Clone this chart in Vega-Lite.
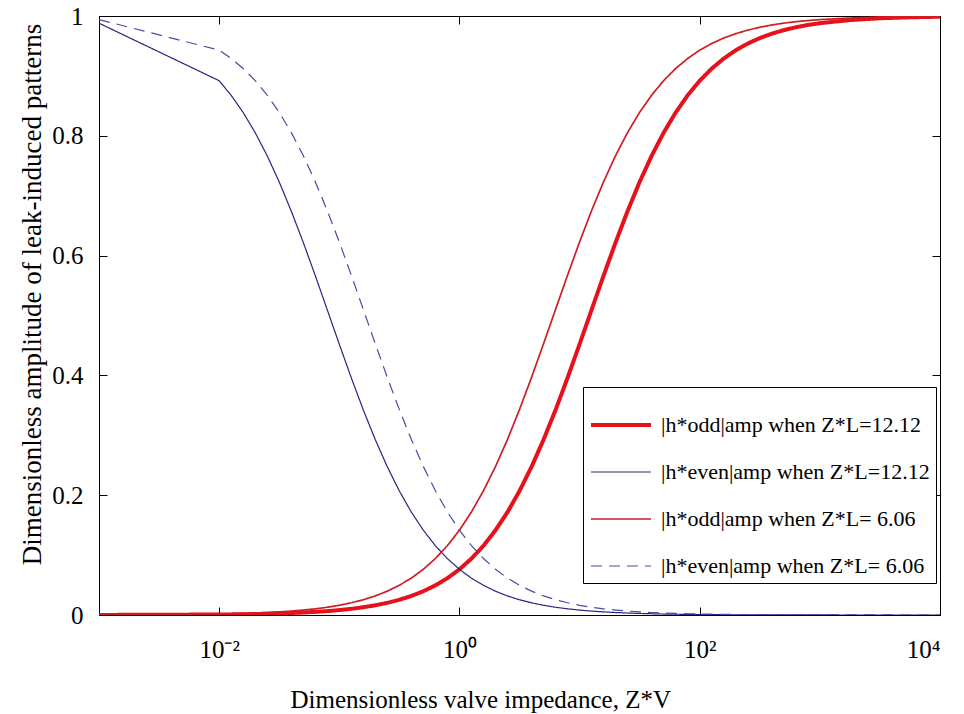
{
  "$schema": "https://vega.github.io/schema/vega-lite/v6.json",
  "width": 841,
  "height": 599,
  "autosize": "none",
  "padding": {"left": 99, "top": 16, "right": 24, "bottom": 99},
  "background": "white",
  "config": {
    "font": "Liberation Serif",
    "view": {"stroke": "black", "strokeWidth": 1},
    "axis": {
      "grid": false,
      "domainColor": "black",
      "domainWidth": 1,
      "tickColor": "black",
      "tickWidth": 1,
      "tickSize": -8,
      "labelFont": "Liberation Serif",
      "labelFontSize": 25,
      "labelColor": "black",
      "titleFont": "Liberation Serif",
      "titleFontWeight": "normal",
      "titleColor": "black"
    },
    "legend": {
      "labelFont": "Liberation Serif",
      "labelFontSize": 22,
      "labelColor": "black"
    }
  },
  "data": {
    "values": [
      {"z": 0.001, "o12": 0.0001, "e12": 0.988, "o6": 0.0002, "e6": 0.994},
      {"z": 0.01, "o12": 0.0008, "e12": 0.892, "o6": 0.0017, "e6": 0.943},
      {"z": 0.01259, "o12": 0.001, "e12": 0.8676, "o6": 0.0021, "e6": 0.9291},
      {"z": 0.01585, "o12": 0.0013, "e12": 0.8389, "o6": 0.0026, "e6": 0.9124},
      {"z": 0.01995, "o12": 0.0016, "e12": 0.8053, "o6": 0.0033, "e6": 0.8921},
      {"z": 0.02512, "o12": 0.0021, "e12": 0.7666, "o6": 0.0041, "e6": 0.8679},
      {"z": 0.03162, "o12": 0.0026, "e12": 0.723, "o6": 0.0052, "e6": 0.8392},
      {"z": 0.03981, "o12": 0.0033, "e12": 0.6745, "o6": 0.0065, "e6": 0.8057},
      {"z": 0.05012, "o12": 0.0041, "e12": 0.6221, "o6": 0.0082, "e6": 0.767},
      {"z": 0.0631, "o12": 0.0052, "e12": 0.5667, "o6": 0.0103, "e6": 0.7234},
      {"z": 0.07943, "o12": 0.0065, "e12": 0.5095, "o6": 0.0129, "e6": 0.6751},
      {"z": 0.1, "o12": 0.0082, "e12": 0.4521, "o6": 0.0162, "e6": 0.6227},
      {"z": 0.1259, "o12": 0.0103, "e12": 0.3959, "o6": 0.0204, "e6": 0.5672},
      {"z": 0.1585, "o12": 0.0129, "e12": 0.3423, "o6": 0.0255, "e6": 0.5101},
      {"z": 0.1995, "o12": 0.0162, "e12": 0.2926, "o6": 0.0319, "e6": 0.4527},
      {"z": 0.2512, "o12": 0.0203, "e12": 0.2473, "o6": 0.0398, "e6": 0.3965},
      {"z": 0.3162, "o12": 0.0254, "e12": 0.207, "o6": 0.0496, "e6": 0.3429},
      {"z": 0.3981, "o12": 0.0318, "e12": 0.1717, "o6": 0.0616, "e6": 0.2931},
      {"z": 0.5012, "o12": 0.0397, "e12": 0.1414, "o6": 0.0764, "e6": 0.2477},
      {"z": 0.631, "o12": 0.0495, "e12": 0.1156, "o6": 0.0943, "e6": 0.2074},
      {"z": 0.7943, "o12": 0.0615, "e12": 0.0941, "o6": 0.1159, "e6": 0.172},
      {"z": 1, "o12": 0.0762, "e12": 0.0762, "o6": 0.1416, "e6": 0.1416},
      {"z": 1.259, "o12": 0.0941, "e12": 0.0615, "o6": 0.172, "e6": 0.1159},
      {"z": 1.585, "o12": 0.1156, "e12": 0.0495, "o6": 0.2074, "e6": 0.0943},
      {"z": 1.995, "o12": 0.1414, "e12": 0.0397, "o6": 0.2477, "e6": 0.0764},
      {"z": 2.512, "o12": 0.1717, "e12": 0.0318, "o6": 0.2931, "e6": 0.0616},
      {"z": 3.162, "o12": 0.207, "e12": 0.0254, "o6": 0.3429, "e6": 0.0496},
      {"z": 3.981, "o12": 0.2473, "e12": 0.0203, "o6": 0.3965, "e6": 0.0398},
      {"z": 5.012, "o12": 0.2926, "e12": 0.0162, "o6": 0.4527, "e6": 0.0319},
      {"z": 6.31, "o12": 0.3423, "e12": 0.0129, "o6": 0.5101, "e6": 0.0255},
      {"z": 7.943, "o12": 0.3959, "e12": 0.0103, "o6": 0.5672, "e6": 0.0204},
      {"z": 10, "o12": 0.4521, "e12": 0.0082, "o6": 0.6227, "e6": 0.0162},
      {"z": 12.59, "o12": 0.5095, "e12": 0.0065, "o6": 0.6751, "e6": 0.0129},
      {"z": 15.85, "o12": 0.5667, "e12": 0.0052, "o6": 0.7234, "e6": 0.0103},
      {"z": 19.95, "o12": 0.6221, "e12": 0.0041, "o6": 0.767, "e6": 0.0082},
      {"z": 25.12, "o12": 0.6745, "e12": 0.0033, "o6": 0.8057, "e6": 0.0065},
      {"z": 31.62, "o12": 0.723, "e12": 0.0026, "o6": 0.8392, "e6": 0.0052},
      {"z": 39.81, "o12": 0.7666, "e12": 0.0021, "o6": 0.8679, "e6": 0.0041},
      {"z": 50.12, "o12": 0.8053, "e12": 0.0016, "o6": 0.8921, "e6": 0.0033},
      {"z": 63.1, "o12": 0.8389, "e12": 0.0013, "o6": 0.9124, "e6": 0.0026},
      {"z": 79.43, "o12": 0.8676, "e12": 0.001, "o6": 0.9291, "e6": 0.0021},
      {"z": 100, "o12": 0.892, "e12": 0.0008, "o6": 0.943, "e6": 0.0017},
      {"z": 125.9, "o12": 0.9122, "e12": 0.0007, "o6": 0.9541, "e6": 0.0013},
      {"z": 158.5, "o12": 0.929, "e12": 0.0005, "o6": 0.9632, "e6": 0.001},
      {"z": 199.5, "o12": 0.9427, "e12": 0.0004, "o6": 0.9705, "e6": 0.0008},
      {"z": 251.2, "o12": 0.954, "e12": 0.0003, "o6": 0.9764, "e6": 0.0007},
      {"z": 316.2, "o12": 0.9631, "e12": 0.0003, "o6": 0.9812, "e6": 0.0005},
      {"z": 398.1, "o12": 0.9705, "e12": 0.0002, "o6": 0.985, "e6": 0.0004},
      {"z": 501.2, "o12": 0.9764, "e12": 0.0002, "o6": 0.9881, "e6": 0.0003},
      {"z": 631, "o12": 0.9812, "e12": 0.0001, "o6": 0.9905, "e6": 0.0003},
      {"z": 794.3, "o12": 0.985, "e12": 0.0001, "o6": 0.9924, "e6": 0.0002},
      {"z": 1000, "o12": 0.988, "e12": 0.0001, "o6": 0.994, "e6": 0.0002},
      {"z": 1778, "o12": 0.9932, "e12": 0.0, "o6": 0.9966, "e6": 0.0001},
      {"z": 3162, "o12": 0.9962, "e12": 0.0, "o6": 0.9981, "e6": 0.0001},
      {"z": 5623, "o12": 0.9978, "e12": 0.0, "o6": 0.9989, "e6": 0.0},
      {"z": 10000, "o12": 0.9988, "e12": 0.0, "o6": 0.9994, "e6": 0.0}
    ]
  },
  "transform": [{"fold": ["o12", "e12", "o6", "e6"], "as": ["series", "v"]}],
  "layer": [
    {
      "mark": {"type": "line", "clip": true},
      "encoding": {
        "x": {
          "field": "z",
          "type": "quantitative",
          "scale": {"type": "log", "domain": [0.001, 10000], "nice": false},
          "axis": {
            "orient": "bottom",
            "values": [0.01, 1, 100, 10000],
            "labelExpr": "datum.value < 0.1 ? '10⁻²' : datum.value < 10 ? '10⁰' : datum.value < 1000 ? '10²' : '10⁴'",
            "labelPadding": 30,
            "title": "Dimensionless valve impedance, Z*V",
            "titleFontSize": 25,
            "titleAnchor": "start",
            "titleAlign": "left",
            "titleBaseline": "alphabetic",
            "titleX": 191,
            "titleY": 92
          }
        },
        "y": {
          "field": "v",
          "type": "quantitative",
          "scale": {"domain": [0, 1], "nice": false},
          "axis": {
            "orient": "left",
            "values": [0, 0.2, 0.4, 0.6, 0.8, 1],
            "format": "~g",
            "labelPadding": 24,
            "title": "Dimensionless amplitude of leak-induced patterns",
            "titleFontSize": 27,
            "titleAlign": "center",
            "titleBaseline": "alphabetic",
            "titleAngle": -90,
            "titleX": -59,
            "titleY": 278
          }
        },
        "color": {
          "field": "series",
          "type": "nominal",
          "scale": {
            "domain": ["o12", "e12", "o6", "e6"],
            "range": ["#e8101a", "#26267e", "#d01c24", "#4a4aa6"]
          },
          "legend": {
            "title": null,
            "orient": "none",
            "legendX": 484,
            "legendY": 371,
            "symbolType": "M-1,0H1",
            "symbolSize": 3600,
            "strokeColor": "black",
            "fillColor": "white",
            "padding": 6,
            "rowPadding": 5,
            "labelOffset": 8,
            "labelLimit": 400,
            "labelExpr": "datum.label == 'o12' ? '|h*odd|amp when Z*L=12.12' : datum.label == 'e12' ? '|h*even|amp when Z*L=12.12' : datum.label == 'o6' ? '|h*odd|amp when Z*L= 6.06' : '|h*even|amp when Z*L= 6.06'"
          }
        },
        "strokeDash": {
          "field": "series",
          "type": "nominal",
          "scale": {
            "domain": ["o12", "e12", "o6", "e6"],
            "range": [[1, 0], [1, 0], [1, 0], [11, 7]]
          },
          "legend": null
        },
        "strokeWidth": {
          "field": "series",
          "type": "nominal",
          "scale": {
            "type": "ordinal",
            "domain": ["o12", "e12", "o6", "e6"],
            "range": [4, 1.2, 1.7, 1.2]
          },
          "legend": null
        }
      }
    },
    {
      "mark": {"type": "line", "opacity": 0},
      "encoding": {
        "x": {
          "field": "z",
          "type": "quantitative",
          "scale": {"type": "log", "domain": [0.001, 10000], "nice": false},
          "axis": {"orient": "top", "values": [0.01, 1, 100, 10000], "labels": false, "title": null}
        },
        "y": {
          "field": "v",
          "type": "quantitative",
          "scale": {"domain": [0, 1], "nice": false},
          "axis": {"orient": "right", "values": [0, 0.2, 0.4, 0.6, 0.8, 1], "labels": false, "title": null}
        }
      }
    }
  ],
  "resolve": {"axis": {"x": "independent", "y": "independent"}}
}
